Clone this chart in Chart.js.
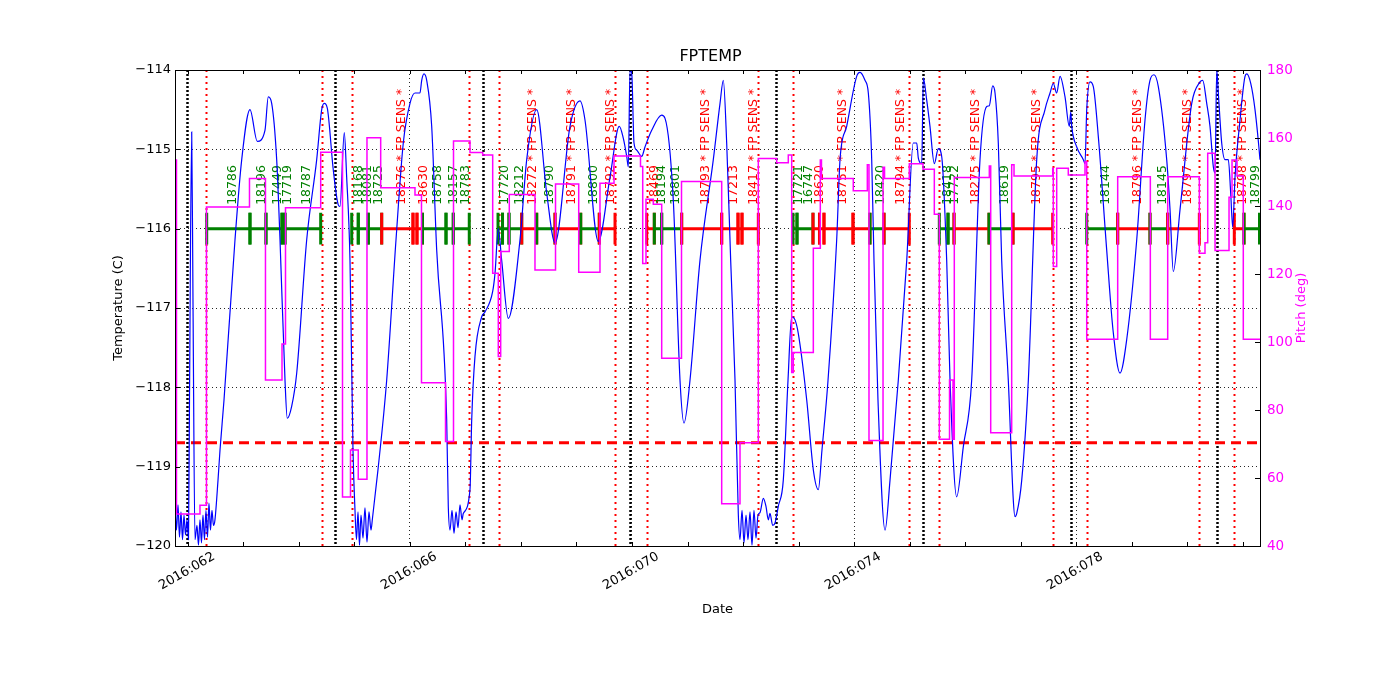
<!DOCTYPE html>
<html>
<head>
<meta charset="utf-8">
<title>FPTEMP</title>
<script src="https://cdn.jsdelivr.net/npm/chart.js@4.4.1/dist/chart.umd.min.js"></script>
<style>
  html, body { margin: 0; padding: 0; background: #fff; }
  #wrap { width: 1400px; height: 700px; }
</style>
</head>
<body>
<div id="wrap"><canvas id="chart-fptemp" width="1400" height="700"></canvas></div>
<script>
// ===============================
// Data (day of year 2016, deg C / deg)
// ===============================
const tempDay = [
  61.766, 61.793, 61.820, 61.847, 61.874, 61.901, 61.928, 61.955, 61.982, 62.009,
  62.027, 62.067, 62.090, 62.126, 62.162, 62.189, 62.216, 62.243, 62.270, 62.297,
  62.324, 62.351, 62.378, 62.405, 62.432, 62.459, 62.486, 62.541, 62.577, 62.649,
  62.847, 62.968, 63.117, 63.249, 63.387, 63.447, 63.508, 63.598, 63.658, 63.748,
  63.789, 63.868, 63.959, 64.139, 64.319, 64.409, 64.456, 64.510, 64.618, 64.708,
  64.739, 64.816, 64.859, 64.919, 64.973, 65.009, 65.036, 65.063, 65.090, 65.117,
  65.153, 65.189, 65.225, 65.261, 65.297, 65.324, 65.423, 65.580, 65.748, 65.879,
  66.000, 66.090, 66.180, 66.211, 66.252, 66.301, 66.391, 66.481, 66.661, 66.690,
  66.721, 66.757, 66.793, 66.829, 66.865, 66.901, 66.937, 66.960, 67.081, 67.112,
  67.171, 67.292, 67.351, 67.490, 67.532, 67.591, 67.652, 67.771, 67.982, 68.103,
  68.283, 68.463, 68.613, 68.883, 69.063, 69.153, 69.393, 69.604, 69.771, 69.843,
  69.905, 69.934, 69.964, 69.995, 70.036, 70.085, 70.175, 70.234, 70.355, 70.535,
  70.595, 70.744, 70.865, 70.937, 71.045, 71.225, 71.465, 71.586, 71.645, 71.706,
  71.778, 71.856, 71.915, 71.946, 71.982, 72.018, 72.054, 72.090, 72.126, 72.162,
  72.198, 72.234, 72.270, 72.306, 72.366, 72.414, 72.456, 72.486, 72.535, 72.577,
  72.636, 72.726, 72.811, 72.877, 72.937, 72.996, 73.148, 73.267, 73.357, 73.423,
  73.532, 73.688, 73.748, 73.868, 74.048, 74.108, 74.198, 74.258, 74.319, 74.360,
  74.432, 74.559, 74.649, 74.798, 74.950, 75.068, 75.130, 75.159, 75.220, 75.249,
  75.310, 75.369, 75.447, 75.519, 75.580, 75.670, 75.730, 75.850, 75.969, 76.120,
  76.270, 76.391, 76.438, 76.499, 76.541, 76.600, 76.661, 76.780, 76.870, 76.901,
  76.932, 77.022, 77.141, 77.292, 77.441, 77.532, 77.591, 77.652, 77.712, 77.802,
  77.879, 77.905, 77.923, 78.013, 78.132, 78.162, 78.193, 78.252, 78.312, 78.402,
  78.553, 78.667, 78.793, 78.913, 79.094, 79.243, 79.333, 79.405, 79.483, 79.634,
  79.694, 79.753, 79.874, 80.085, 80.234, 80.283, 80.355, 80.414, 80.474, 80.505,
  80.535, 80.564, 80.625, 80.685, 80.744, 80.787, 80.823, 80.865, 80.955, 81.045,
  81.076, 81.148, 81.225, 81.315, 81.370
];
const tempVal = [
  -119.42, -119.80, -119.48, -119.89, -119.57, -119.92, -119.61, -119.86, -119.67, -119.92,
  -118.16, -114.78, -116.90, -119.92, -119.74, -119.99, -119.67, -119.96, -119.61, -119.92,
  -119.55, -119.89, -119.46, -119.80, -119.55, -119.74, -119.67, -119.17, -118.79, -118.16,
  -116.14, -115.13, -114.50, -114.90, -114.76, -114.34, -114.42, -115.13, -116.14, -117.91,
  -118.39, -118.24, -117.82, -116.14, -115.13, -114.50, -114.42, -114.48, -115.26, -115.70,
  -115.72, -114.79, -115.35, -116.40, -118.79, -119.55, -119.92, -119.57, -119.99, -119.61,
  -119.90, -119.52, -119.95, -119.57, -119.80, -119.65, -119.04, -117.91, -116.14, -114.92,
  -114.42, -114.29, -114.29, -114.13, -114.05, -114.13, -114.71, -116.27, -118.41, -119.50,
  -119.80, -119.55, -119.84, -119.57, -119.77, -119.48, -119.67, -119.59, -119.29, -118.41,
  -117.61, -117.11, -117.05, -116.79, -116.56, -116.00, -116.40, -117.13, -116.14, -115.13,
  -114.50, -115.55, -116.18, -114.71, -114.39, -114.63, -116.16, -115.35, -114.71, -114.86,
  -115.09, -115.22, -114.00, -114.04, -114.92, -115.01, -115.09, -114.97, -114.76, -114.57,
  -114.61, -115.64, -117.91, -118.45, -117.91, -116.40, -115.13, -114.42, -114.13, -114.92,
  -116.40, -117.91, -119.59, -119.92, -119.55, -119.96, -119.61, -119.92, -119.57, -119.99,
  -119.55, -119.90, -119.61, -119.58, -119.40, -119.50, -119.67, -119.59, -119.74, -119.71,
  -119.50, -119.17, -117.91, -117.11, -117.15, -117.32, -118.16, -119.04, -119.29, -118.79,
  -117.91, -116.14, -115.13, -114.71, -114.08, -114.03, -114.13, -114.29, -115.13, -116.40,
  -118.16, -119.80, -119.17, -117.91, -116.40, -114.92, -114.92, -115.11, -115.18, -114.10,
  -114.38, -114.71, -115.18, -114.99, -115.09, -116.40, -117.91, -119.38, -118.75, -117.91,
  -115.13, -114.46, -114.45, -114.20, -114.29, -114.92, -116.40, -117.91, -119.42, -119.63,
  -119.59, -119.17, -117.91, -115.13, -114.50, -114.29, -114.17, -114.29, -114.08, -114.34,
  -114.71, -114.53, -114.71, -114.97, -115.13, -115.18, -114.50, -114.15, -114.21, -114.84,
  -116.27, -117.28, -117.82, -117.40, -116.14, -114.63, -114.13, -114.06, -114.21, -115.13,
  -115.76, -116.54, -115.76, -114.42, -114.15, -114.13, -114.42, -114.71, -115.22, -115.30,
  -114.00, -114.29, -114.92, -115.13, -115.13, -115.55, -115.98, -115.35, -114.63, -114.08,
  -114.05, -114.17, -114.50, -115.13, -115.64
];

const pitchDay = [
  61.771, 61.793, 62.216, 62.333, 63.108, 63.396, 63.694, 63.757, 64.391, 64.784,
  64.928, 65.068, 65.225, 65.472, 66.090, 66.207, 66.640, 66.784, 67.081, 67.310,
  67.490, 67.591, 67.634, 67.789, 68.252, 68.622, 69.040, 69.423, 69.676, 70.153,
  70.193, 70.252, 70.384, 70.535, 70.892, 71.616, 71.946, 72.276, 72.607, 72.816,
  72.877, 72.906, 73.267, 73.393, 73.414, 73.987, 74.240, 74.270, 74.523, 74.550,
  74.996, 75.243, 75.447, 75.537, 75.721, 75.784, 75.807, 76.438, 76.463, 76.841,
  76.883, 77.580, 77.591, 77.652, 77.861, 78.162, 78.193, 78.751, 79.339, 79.652,
  80.222, 80.324, 80.373, 80.505, 80.757, 80.811, 80.901, 81.014, 81.400
];
const pitchVal = [
  153.5, 49.4, 52.0, 139.7, 148.1, 88.8, 99.4, 139.5, 155.8, 54.4,
  68.2, 59.6, 160.1, 145.4, 143.2, 88.0, 70.7, 159.1, 155.7, 155.0,
  120.2, 95.7, 126.6, 143.4, 121.2, 146.5, 120.5, 146.7, 154.7, 151.6,
  123.1, 142.0, 140.5, 95.2, 147.2, 52.4, 70.4, 154.0, 152.7, 155.0,
  91.0, 96.9, 127.6, 153.5, 148.1, 144.5, 152.1, 71.0, 151.4, 148.1,
  152.4, 150.8, 137.6, 71.4, 88.8, 71.4, 148.4, 151.8, 73.3, 152.1,
  148.8, 151.1, 122.2, 151.1, 149.1, 153.0, 100.8, 148.6, 100.8, 148.6,
  126.1, 129.2, 155.5, 126.9, 142.6, 153.5, 148.8, 100.8, 100.8
];

// Observations (obsid intervals); segFp = 1 -> "FP SENS" (red)
const segStart = [
  62.337, 63.117, 63.405, 63.694, 63.748,
  64.950, 65.068, 65.249, 65.490, 66.054, 66.126, 66.225, 66.649, 66.780,
  67.586, 67.667, 67.784, 68.013, 68.283, 68.613, 69.076, 69.411,
  70.265, 70.402, 70.535, 70.895, 71.616, 71.910, 71.982,
  72.901, 72.973, 73.261, 73.378, 73.459, 73.982, 74.288, 74.541,
  75.537, 75.694, 75.802, 76.432, 76.865,
  78.193, 78.751, 79.333, 79.652,
  80.852, 81.027
];
const segEnd = [
  63.117, 63.405, 63.694, 63.748, 64.391,
  65.068, 65.249, 65.490, 66.054, 66.126, 66.225, 66.649, 66.780, 67.068,
  67.667, 67.784, 68.013, 68.283, 68.613, 69.076, 69.411, 69.694,
  70.402, 70.535, 70.895, 71.616, 71.910, 71.982, 72.276,
  72.973, 73.261, 73.378, 73.459, 73.982, 74.288, 74.541, 74.996,
  75.694, 75.802, 76.432, 76.865, 77.580,
  78.751, 79.333, 79.652, 80.222,
  81.027, 81.306
];
const segFp = [
  0, 0, 0, 0, 0,
  0, 0, 0, 1, 1, 1, 0, 0, 0,
  0, 0, 0, 1, 0, 1, 0, 1,
  1, 0, 0, 1, 1, 1, 1,
  0, 0, 1, 1, 1, 1, 0, 1,
  0, 0, 1, 0, 1,
  0, 1, 0, 1,
  1, 0
];
const segLabel = [
  "18786", "18196", "17449", "17719", "18787",
  "18168", "18081", "18725", "18276 * FP SENS *", "", "18630", "18758", "18157", "18783",
  "17720", "", "18212", "18272 * FP SENS *", "18790", "18791 * FP SENS *", "18800", "18792 * FP SENS *",
  "18469", "18194", "18801", "18793 * FP SENS *", "17213", "", "18417 * FP SENS *",
  "17721", "16747", "18620", "", "18751 * FP SENS *", "", "18420", "18794 * FP SENS *",
  "18418", "17722", "18275 * FP SENS *", "18619", "18795 * FP SENS *",
  "18144", "18796 * FP SENS *", "18145", "18797 * FP SENS *",
  "18798 * FP SENS *", "18799"
];

const redLineDays = [62.333, 64.409, 64.950, 67.068, 67.609, 69.694, 70.265, 72.276,
  72.906, 74.996, 75.537, 77.580, 78.193, 80.222, 80.852];
const blackLineDays = [61.990, 64.649, 67.310, 69.964, 72.595, 75.249, 77.905, 80.535];

const limitTemp = -118.7;
const obsLevel = -116.0;
const majorDays = [62, 66, 70, 74, 78];

// ===============================
// Estilo
// ===============================
const BLUE = "#0000ff";
const MAGENTA = "#ff00ff";
const RED = "#ff0000";
const GREEN = "#008000";
const FONT = '"DejaVu Sans", "Liberation Sans", sans-serif';

Chart.defaults.font.family = FONT;
Chart.defaults.font.size = 13;
Chart.defaults.color = "#000";

// Overlay: markers, obsid bars, labels, frame and inward ticks
const overlayPlugin = {
  id: "overlay",
  beforeDatasetsDraw(chart) {
    const { ctx, chartArea: a, scales } = chart;
    const x = scales.x;
    const y = scales.y;
    ctx.save();
    ctx.beginPath();
    ctx.rect(a.left, a.top, a.right - a.left, a.bottom - a.top);
    ctx.clip();

    const vline = (d, color, width, dash) => {
      const px = Math.round(x.getPixelForValue(d)) + 0.5;
      ctx.strokeStyle = color;
      ctx.lineWidth = width;
      ctx.setLineDash(dash);
      ctx.beginPath();
      ctx.moveTo(px, a.top);
      ctx.lineTo(px, a.bottom);
      ctx.stroke();
    };
    redLineDays.forEach(d => vline(d, RED, 2, [2, 4]));
    blackLineDays.forEach(d => vline(d, "#000", 2.5, [2, 2]));
    ctx.setLineDash([]);

    // obsid intervals
    const yc = y.getPixelForValue(obsLevel);
    const yt = y.getPixelForValue(obsLevel + 0.2);
    const yb = y.getPixelForValue(obsLevel - 0.2);
    ctx.lineWidth = 3;
    for (let i = 0; i < segStart.length; i++) {
      const x0 = x.getPixelForValue(segStart[i]);
      const x1 = x.getPixelForValue(segEnd[i]);
      ctx.strokeStyle = segFp[i] ? RED : GREEN;
      ctx.beginPath();
      ctx.moveTo(x0, yc);
      ctx.lineTo(x1, yc);
      ctx.moveTo(x0, yt);
      ctx.lineTo(x0, yb);
      ctx.moveTo(x1, yt);
      ctx.lineTo(x1, yb);
      ctx.stroke();
    }

    // labels
    const yl = y.getPixelForValue(-115.7);
    ctx.font = "12.5px " + FONT;
    ctx.textAlign = "left";
    ctx.textBaseline = "middle";
    for (let i = 0; i < segStart.length; i++) {
      if (!segLabel[i]) continue;
      const xm = x.getPixelForValue((segStart[i] + segEnd[i]) / 2) + 4;
      ctx.save();
      ctx.translate(xm, yl);
      ctx.rotate(-Math.PI / 2);
      ctx.fillStyle = segFp[i] ? RED : GREEN;
      ctx.fillText(segLabel[i], 0, 0);
      ctx.restore();
    }

    // limit line
    const yLim = y.getPixelForValue(limitTemp);
    ctx.strokeStyle = RED;
    ctx.lineWidth = 3;
    ctx.setLineDash([10, 6]);
    ctx.beginPath();
    ctx.moveTo(a.left, yLim);
    ctx.lineTo(a.right, yLim);
    ctx.stroke();
    ctx.restore();
  },
  afterDatasetsDraw(chart) {
    const { ctx, chartArea: a, scales } = chart;
    ctx.save();
    ctx.strokeStyle = "#000";
    ctx.lineWidth = 1;
    ctx.beginPath();
    scales.x.ticks.forEach(t => {
      if (!Number.isInteger(t.value)) return;
      const px = Math.round(scales.x.getPixelForValue(t.value)) + 0.5;
      ctx.moveTo(px, a.bottom); ctx.lineTo(px, a.bottom - 4);
      ctx.moveTo(px, a.top); ctx.lineTo(px, a.top + 4);
    });
    scales.y.ticks.forEach(t => {
      const py = Math.round(scales.y.getPixelForValue(t.value)) + 0.5;
      ctx.moveTo(a.left, py); ctx.lineTo(a.left + 5, py);
    });
    scales.y2.ticks.forEach(t => {
      const py = Math.round(scales.y2.getPixelForValue(t.value)) + 0.5;
      ctx.moveTo(a.right, py); ctx.lineTo(a.right - 5, py);
    });
    ctx.stroke();
    ctx.strokeRect(Math.round(a.left) + 0.5, Math.round(a.top) + 0.5,
      Math.round(a.right - a.left), Math.round(a.bottom - a.top));

    // right axis title, reading bottom to top like matplotlib
    ctx.translate(a.right + 42, (a.top + a.bottom) / 2);
    ctx.rotate(-Math.PI / 2);
    ctx.font = "13px " + FONT;
    ctx.fillStyle = MAGENTA;
    ctx.textAlign = "center";
    ctx.textBaseline = "middle";
    ctx.fillText("Pitch (deg)", 0, 0);
    ctx.restore();
  }
};

// ===============================
// Chart
// ===============================
const ctxChart = document.getElementById("chart-fptemp");
new Chart(ctxChart, {
  type: "line",
  data: {
    datasets: [
      {
        label: "Pitch",
        data: pitchDay.map((d, i) => ({ x: d, y: pitchVal[i] })),
        yAxisID: "y2",
        borderColor: MAGENTA,
        borderWidth: 1.5,
        pointRadius: 0,
        stepped: true,
        fill: false,
        order: 0
      },
      {
        label: "FPTEMP",
        data: tempDay.map((d, i) => ({ x: d, y: tempVal[i] })),
        yAxisID: "y",
        borderColor: BLUE,
        borderWidth: 1.2,
        pointRadius: 0,
        cubicInterpolationMode: "monotone",
        fill: false,
        order: 1
      }
    ]
  },
  options: {
    responsive: false,
    animation: false,
    events: [],
    layout: { padding: { left: 107, right: 86, top: 0, bottom: 79 } },
    plugins: {
      legend: { display: false },
      tooltip: { enabled: false },
      title: {
        display: true,
        text: "FPTEMP",
        font: { size: 16, weight: "normal" },
        color: "#000",
        padding: { top: 47, bottom: 3.8 }
      }
    },
    scales: {
      x: {
        type: "linear",
        min: 61.766,
        max: 81.315,
        afterFit: s => { s.height = 75; },
        title: { display: true, text: "Date", font: { size: 13 }, color: "#000" },
        ticks: {
          stepSize: 1,
          includeBounds: false,
          autoSkip: false,
          minRotation: 30,
          maxRotation: 30,
          labelOffset: 26,
          padding: 3,
          color: "#000",
          callback: v => majorDays.includes(v) ? "2016:" + String(v).padStart(3, "0") : ""
        },
        grid: {
          drawTicks: false,
          lineWidth: 1,
          color: c => (c.tick && majorDays.includes(c.tick.value)) ? "rgba(0,0,0,0.85)" : "rgba(0,0,0,0)"
        },
        border: { display: true, color: "#000", width: 1, dash: [1, 3] }
      },
      y: {
        position: "left",
        min: -120,
        max: -114,
        afterFit: s => { s.width = 68; },
        title: { display: true, text: "Temperature (C)", font: { size: 13 }, color: "#000" },
        ticks: {
          stepSize: 1,
          padding: 4,
          color: "#000",
          callback: v => String(v).replace("-", "\u2212")
        },
        grid: { drawTicks: false, lineWidth: 1, color: "rgba(0,0,0,0.85)" },
        border: { display: true, color: "#000", width: 1, dash: [1, 3] }
      },
      y2: {
        position: "right",
        min: 40,
        max: 180,
        afterFit: s => { s.width = 54; },
        title: { display: false },
        ticks: { stepSize: 20, padding: 7, color: MAGENTA, font: { size: 13.5 } },
        grid: { display: false, drawTicks: false },
        border: { display: true, color: "#000", width: 1 }
      }
    }
  },
  plugins: [overlayPlugin]
});
</script>
</body>
</html>
